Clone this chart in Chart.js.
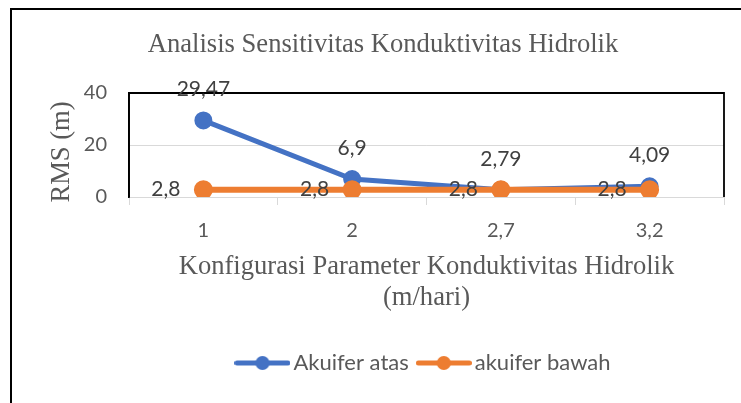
<!DOCTYPE html>
<html>
<head>
<meta charset="utf-8">
<script src="https://cdn.jsdelivr.net/npm/chart.js@4.4.1/dist/chart.umd.min.js"></script>
<style>
  html, body { margin: 0; padding: 0; background: #fff; }
  #wrap { position: relative; width: 741px; height: 403px; }
</style>
</head>
<body>
<div id="wrap"><canvas id="chart"></canvas></div>
<script>
// data
const categories = ['1', '2', '2,7', '3,2'];
const akuiferAtas = [29.47, 6.9, 2.79, 4.09];
const akuiferBawah = [2.8, 2.8, 2.8, 2.8];
const yMin = 0;
const yMax = 40;
const yStep = 20;
const chartTitle = 'Analisis Sensitivitas Konduktivitas Hidrolik';
const xTitle = ['Konfigurasi Parameter Konduktivitas Hidrolik', '(m/hari)'];
const yTitle = 'RMS (m)';

const BLUE = '#4472C4';
const ORANGE = '#ED7D31';
const TEXT = '#595959';
const LABEL = '#404040';
const SANS = 'Lato';
const SERIF = '"Liberation Serif", "Times New Roman", serif';

// line + dot marker used in the legend
function legendMarker(color) {
    const c = document.createElement('canvas');
    c.width = 56;
    c.height = 16;
    const g = c.getContext('2d');
    g.strokeStyle = color;
    g.lineWidth = 5;
    g.lineCap = 'round';
    g.beginPath();
    g.moveTo(2.5, 8);
    g.lineTo(53.5, 8);
    g.stroke();
    g.fillStyle = color;
    g.beginPath();
    g.arc(28, 8, 7, 0, Math.PI * 2);
    g.fill();
    return c;
}

// outer frame, plot border and free titles
const framePlugin = {
    id: 'frame',
    beforeDraw(chart) {
        const ctx = chart.ctx;
        ctx.save();
        ctx.fillStyle = '#fff';
        ctx.fillRect(0, 0, chart.width, chart.height);
        ctx.strokeStyle = '#000';
        ctx.lineWidth = 2;
        ctx.beginPath();
        ctx.moveTo(11, chart.height);
        ctx.lineTo(11, 9);
        ctx.lineTo(chart.width, 9);
        ctx.stroke();

        ctx.fillStyle = TEXT;
        ctx.font = `26.6px ${SERIF}`;
        ctx.textAlign = 'center';
        ctx.textBaseline = 'middle';
        ctx.fillText(chartTitle, 383, 45);

        ctx.translate(62, 152);
        ctx.rotate(-Math.PI / 2);
        ctx.fillText(yTitle, 0, 0);
        ctx.restore();
    },
    beforeDatasetsDraw(chart) {
        const {left, top, right, bottom} = chart.chartArea;
        const ctx = chart.ctx;
        ctx.save();
        ctx.strokeStyle = '#000';
        ctx.lineWidth = 1.8;
        ctx.beginPath();
        ctx.moveTo(left, bottom);
        ctx.lineTo(left, top);
        ctx.lineTo(right, top);
        ctx.lineTo(right, bottom);
        ctx.stroke();
        ctx.restore();
    }
};

// value labels next to each point
const valueLabels = {
    id: 'valueLabels',
    afterDatasetsDraw(chart) {
        const ctx = chart.ctx;
        ctx.save();
        ctx.font = `21px ${SANS}`;
        ctx.fillStyle = LABEL;
        ctx.textBaseline = 'middle';
        chart.data.datasets.forEach((ds, i) => {
            const meta = chart.getDatasetMeta(i);
            meta.data.forEach((pt, j) => {
                const text = String(ds.data[j]).replace('.', ',');
                if (ds.labelPos === 'left') {
                    ctx.textAlign = 'right';
                    ctx.fillText(text, pt.x - 23, pt.y);
                } else {
                    ctx.textAlign = 'center';
                    ctx.fillText(text, pt.x, pt.y - 31);
                }
            });
        });
        ctx.restore();
    }
};

const ctx = document.getElementById('chart').getContext('2d');
new Chart(ctx, {
    type: 'line',
    data: {
        labels: categories,
        datasets: [
            {
                label: 'Akuifer atas',
                data: akuiferAtas,
                borderColor: BLUE,
                backgroundColor: BLUE,
                pointBackgroundColor: BLUE,
                pointBorderColor: BLUE,
                borderWidth: 5,
                order: 1,
                labelPos: 'above',
            },
            {
                label: 'akuifer bawah',
                data: akuiferBawah,
                borderColor: ORANGE,
                backgroundColor: ORANGE,
                pointBackgroundColor: ORANGE,
                pointBorderColor: ORANGE,
                borderWidth: 6,
                order: 0,
                labelPos: 'left',
            }
        ]
    },
    options: {
        responsive: true,
        maintainAspectRatio: false,
        animation: false,
        events: [],
        layout: {
            padding: { top: 93, right: 17, left: 0, bottom: 19 }
        },
        elements: {
            line: { tension: 0 },
            point: { radius: 6.5, borderWidth: 1.5 }
        },
        plugins: {
            tooltip: { enabled: false },
            title: { display: false },
            legend: {
                position: 'bottom',
                fullSize: false,
                labels: {
                    usePointStyle: true,
                    pointStyleWidth: 40,
                    padding: 15,
                    color: TEXT,
                    font: { family: SANS, size: 22 },
                    generateLabels(chart) {
                        return chart.data.datasets.map((ds, i) => ({
                            text: ds.label,
                            fillStyle: ds.borderColor,
                            strokeStyle: ds.borderColor,
                            fontColor: TEXT,
                            pointStyle: legendMarker(ds.borderColor),
                            lineWidth: 0,
                            datasetIndex: i,
                            hidden: false,
                        }));
                    }
                }
            }
        },
        scales: {
            x: {
                offset: true,
                afterFit(scale) { scale.height = 140; },
                grid: {
                    offset: true,
                    drawOnChartArea: false,
                    drawTicks: true,
                    tickLength: 8,
                    color: '#d9d9d9',
                },
                border: { display: true, color: '#d9d9d9', width: 1 },
                ticks: {
                    color: TEXT,
                    padding: 14,
                    font: { family: SANS, size: 20 },
                },
                title: {
                    display: true,
                    text: xTitle,
                    color: TEXT,
                    font: { family: SERIF, size: 26.6, lineHeight: 1.15 },
                    padding: { top: 0, bottom: 23.7 },
                }
            },
            y: {
                min: yMin,
                max: yMax,
                afterFit(scale) { scale.width = 129; },
                grid: {
                    color: '#d9d9d9',
                    drawTicks: false,
                },
                border: { display: true, color: '#000', width: 1.8 },
                ticks: {
                    stepSize: yStep,
                    color: TEXT,
                    padding: 22,
                    font: { family: SANS, size: 20 },
                }
            }
        }
    },
    plugins: [framePlugin, valueLabels]
});
</script>
</body>
</html>
